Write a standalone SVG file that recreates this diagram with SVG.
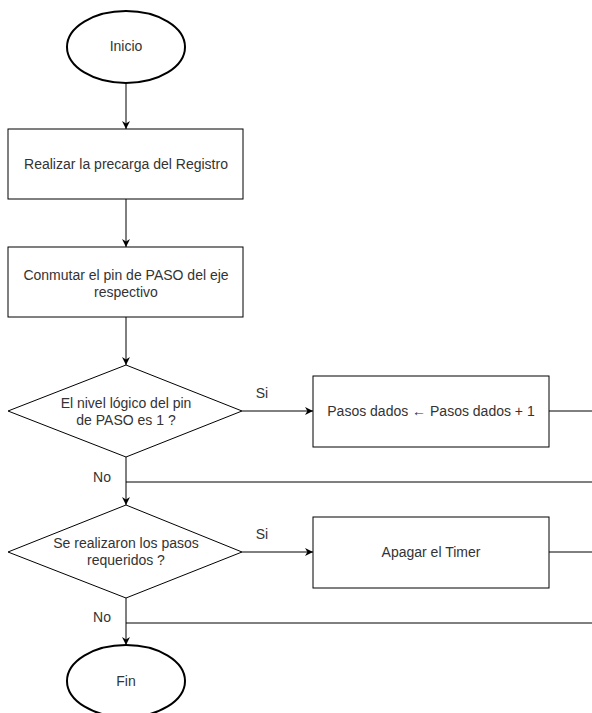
<svg xmlns="http://www.w3.org/2000/svg" width="592" height="713" viewBox="0 0 592 713">
<style>
.n{fill:#fff;stroke:#000;stroke-width:1}
.e{fill:#fff;stroke:#000;stroke-width:2}
.t{font-family:"Liberation Sans",Arial,sans-serif;font-size:14px;fill:#333;text-anchor:middle}
.c{fill:none;stroke:#000;stroke-width:1}
</style>
<defs>
<marker id="a" viewBox="0 0 10 10" refX="10" refY="5" markerWidth="8" markerHeight="8" markerUnits="userSpaceOnUse" orient="auto">
<path d="M0,0 L10,5 L0,10 L3,5 Z" fill="#000"/>
</marker>
</defs>
<rect width="592" height="713" fill="#fff"/>
<g id="connectors">
<path class="c" d="M126,83 V129" marker-end="url(#a)"/>
<path class="c" d="M126,199 V247" marker-end="url(#a)"/>
<path class="c" d="M126,317 V365" marker-end="url(#a)"/>
<path class="c" d="M242,411 H313" marker-end="url(#a)"/>
<path class="c" d="M549,411 H592"/>
<path class="c" d="M126,457 V505" marker-end="url(#a)"/>
<path class="c" d="M126,482 H592"/>
<path class="c" d="M242,552 H313" marker-end="url(#a)"/>
<path class="c" d="M549,552 H592"/>
<path class="c" d="M126,598 V645" marker-end="url(#a)"/>
<path class="c" d="M126,623 H592"/>
<text class="t" x="262" y="398">Si</text>
<text class="t" x="262" y="539">Si</text>
<text class="t" x="102" y="482">No</text>
<text class="t" x="102" y="622">No</text>
</g>
<g id="inicio">
<ellipse class="e" cx="126" cy="47" rx="59" ry="36"/>
<text class="t" x="126" y="51">Inicio</text>
</g>
<g id="precarga">
<rect class="n" x="8" y="129" width="235" height="70"/>
<text class="t" x="126" y="169">Realizar la precarga del Registro</text>
</g>
<g id="conmutar">
<rect class="n" x="8" y="247" width="235" height="70"/>
<text class="t" x="126" y="280">Conmutar el pin de PASO del eje</text>
<text class="t" x="126" y="297">respectivo</text>
</g>
<g id="decision1">
<polygon class="n" points="126,365 242,411 126,457 8,411"/>
<text class="t" x="126" y="408">El nivel lógico del pin</text>
<text class="t" x="126" y="425">de PASO es 1 ?</text>
</g>
<g id="pasos">
<rect class="n" x="313" y="376" width="236" height="71"/>
<text class="t" x="431" y="416">Pasos dados ← Pasos dados + 1</text>
</g>
<g id="decision2">
<polygon class="n" points="126,505 242,552 126,598 8,552"/>
<text class="t" x="126" y="548">Se realizaron los pasos</text>
<text class="t" x="126" y="565">requeridos ?</text>
</g>
<g id="apagar">
<rect class="n" x="313" y="517" width="236" height="71"/>
<text class="t" x="431" y="557">Apagar el Timer</text>
</g>
<g id="fin">
<ellipse class="e" cx="126" cy="681" rx="59" ry="36"/>
<text class="t" x="126" y="686">Fin</text>
</g>
</svg>
